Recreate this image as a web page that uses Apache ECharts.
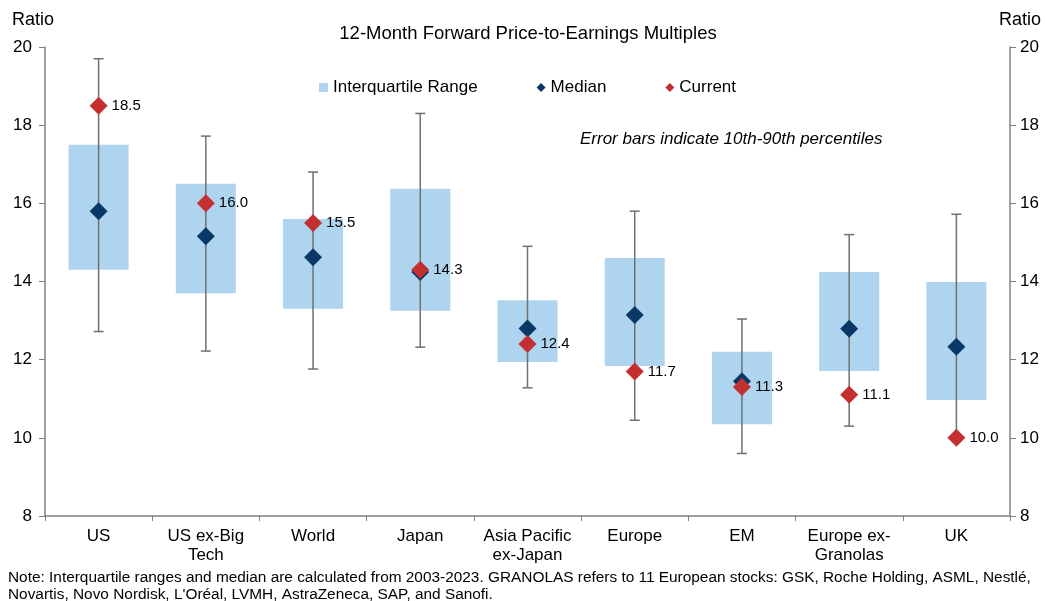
<!DOCTYPE html>
<html>
<head>
<meta charset="utf-8">
<script src="https://cdn.jsdelivr.net/npm/echarts@6/dist/echarts.min.js"></script>
<style>
  html, body { margin: 0; padding: 0; background: #fff; }
  #chart { width: 1046px; height: 601px; }
</style>
</head>
<body>
<div id="chart"></div>
<script>
const categories = ['US', 'US ex-Big\nTech', 'World', 'Japan', 'Asia Pacific\nex-Japan', 'Europe', 'EM', 'Europe ex-\nGranolas', 'UK']
const q1 = [14.3, 13.7, 13.3, 13.25, 11.94, 11.84, 10.35, 11.71, 10.97]
const q3 = [17.5, 16.5, 15.6, 16.37, 13.52, 14.6, 12.2, 14.24, 13.99]
const median = [15.8, 15.16, 14.62, 14.24, 12.8, 13.14, 11.45, 12.79, 12.33]
const p10 = [12.72, 12.22, 11.76, 12.32, 11.28, 10.45, 9.6, 10.3, 10.0]
const p90 = [19.7, 17.72, 16.8, 18.3, 14.9, 15.8, 13.04, 15.2, 15.72]
const current = [18.5, 16.0, 15.5, 14.3, 12.4, 11.7, 11.3, 11.1, 10.0]
const yTicks = [8, 10, 12, 14, 16, 18, 20]

const font = 'Liberation Sans, Arial, sans-serif'
const chart = echarts.init(document.getElementById('chart'))

const boxData = categories.map((c, i) => [i, q1[i], q3[i]])
const errData = categories.map((c, i) => [i, p10[i], p90[i]])

chart.setOption({
  animation: false,
  textStyle: { fontFamily: font },
  title: [{
    text: '12-Month Forward Price-to-Earnings Multiples',
    left: 523, top: 19, textAlign: 'center',
    textStyle: { fontSize: 18.5, fontWeight: 'normal', color: '#000', fontFamily: font }
  }],
  graphic: [
    { type: 'text', left: 12, top: 11, style: { text: 'Ratio', fontSize: 18, fill: '#000', fontFamily: font } },
    { type: 'text', right: 5, top: 11, style: { text: 'Ratio', fontSize: 18, fill: '#000', fontFamily: font } },
    { type: 'text', left: 580, top: 131, style: { text: 'Error bars indicate 10th-90th percentiles', fontSize: 17, fontStyle: 'italic', fill: '#000', fontFamily: font } },
    { type: 'text', left: 8, top: 569, style: { text: 'Note: Interquartile ranges and median are calculated from 2003-2023. GRANOLAS refers to 11 European stocks: GSK, Roche Holding, ASML, Nestlé,\nNovartis, Novo Nordisk, L\'Oréal, LVMH, AstraZeneca, SAP, and Sanofi.', fontSize: 15.4, lineHeight: 17, fill: '#000', fontFamily: font } }
  ],
  legend: {
    top: 74, left: 314,
    itemGap: 59, itemWidth: 9, itemHeight: 9,
    textStyle: { fontSize: 17, color: '#000', fontFamily: font },
    data: [
      { name: 'Interquartile Range', icon: 'rect' },
      { name: 'Median', icon: 'diamond' },
      { name: 'Current', icon: 'diamond' }
    ]
  },
  grid: { left: 45, right: 36, top: 47, bottom: 85 },
  xAxis: {
    type: 'category',
    data: categories,
    axisLine: { lineStyle: { color: '#808080', width: 1.5 } },
    axisTick: { show: true, length: 5, lineStyle: { color: '#808080' } },
    axisLabel: { fontSize: 17, color: '#000', lineHeight: 19, margin: 11, interval: 0 }
  },
  yAxis: [{
    type: 'value', min: 8, max: 20, interval: 2,
    axisLine: { show: true, lineStyle: { color: '#808080', width: 1.5 } },
    axisTick: { show: true, length: 6, lineStyle: { color: '#808080' } },
    splitLine: { show: false },
    axisLabel: { fontSize: 17, color: '#000', margin: 13 }
  }, {
    type: 'value', min: 8, max: 20, interval: 2, position: 'right',
    axisLine: { show: true, lineStyle: { color: '#808080', width: 1.5 } },
    axisTick: { show: true, length: 6, lineStyle: { color: '#808080' } },
    splitLine: { show: false },
    axisLabel: { fontSize: 17, color: '#000', margin: 10 }
  }],
  series: [
    {
      name: 'Interquartile Range',
      type: 'custom',
      itemStyle: { color: '#aed4f0' },
      encode: { x: 0, y: [1, 2] },
      renderItem: function (params, api) {
        const lo = api.coord([api.value(0), api.value(1)])
        const hi = api.coord([api.value(0), api.value(2)])
        const w = api.size([1, 0])[0] * 0.56
        return {
          type: 'rect',
          shape: { x: lo[0] - w / 2, y: hi[1], width: w, height: lo[1] - hi[1] },
          style: { fill: '#aed4f0' }
        }
      },
      data: boxData,
      z: 1
    },
    {
      name: 'Error',
      type: 'custom',
      encode: { x: 0, y: [1, 2] },
      renderItem: function (params, api) {
        const lo = api.coord([api.value(0), api.value(1)])
        const hi = api.coord([api.value(0), api.value(2)])
        const cap = 5
        const st = { stroke: '#707070', lineWidth: 1.5 }
        return {
          type: 'group',
          children: [
            { type: 'line', shape: { x1: lo[0], y1: lo[1], x2: hi[0], y2: hi[1] }, style: st },
            { type: 'line', shape: { x1: lo[0] - cap, y1: lo[1], x2: lo[0] + cap, y2: lo[1] }, style: st },
            { type: 'line', shape: { x1: hi[0] - cap, y1: hi[1], x2: hi[0] + cap, y2: hi[1] }, style: st }
          ]
        }
      },
      data: errData,
      z: 2
    },
    {
      name: 'Median',
      type: 'scatter',
      symbol: 'diamond',
      symbolSize: 18,
      itemStyle: { color: '#0a3866', opacity: 1 },
      data: median,
      z: 3
    },
    {
      name: 'Current',
      type: 'scatter',
      symbol: 'diamond',
      symbolSize: 18,
      itemStyle: { color: '#c3302f', opacity: 1 },
      label: {
        show: true, position: 'right', distance: 4,
        fontSize: 15, color: '#000', fontFamily: font,
        formatter: p => p.value.toFixed(1)
      },
      data: current,
      z: 4
    }
  ]
})
</script>
</body>
</html>
